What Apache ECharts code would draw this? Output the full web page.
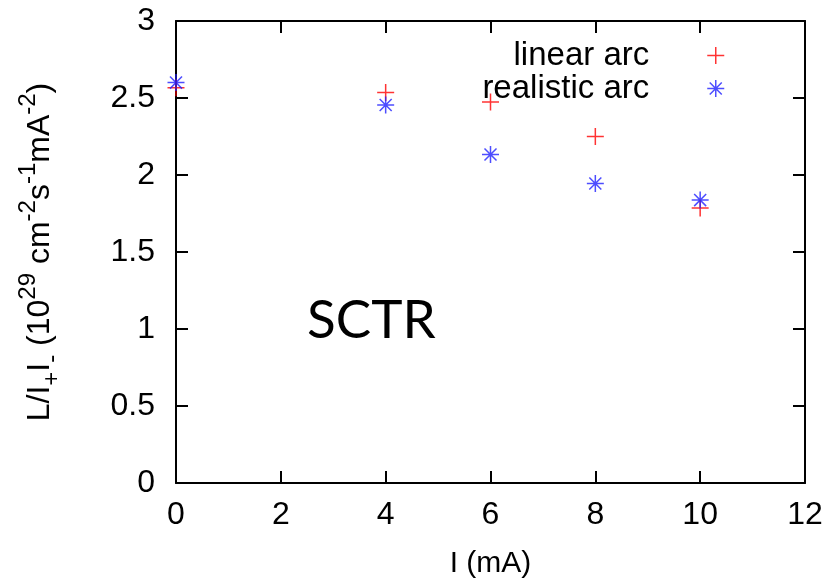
<!DOCTYPE html>
<html><head><meta charset="utf-8">
<script src="https://cdn.jsdelivr.net/npm/echarts@6/dist/echarts.min.js"></script>
<style>html,body{margin:0;padding:0;background:#fff}#c{width:830px;height:581px}</style>
</head><body><div id="c"></div>
<script>
const current = [0, 4, 6, 8, 10];
const linearArc = [2.567, 2.535, 2.474, 2.25, 1.785];
const realisticArc = [2.60, 2.454, 2.133, 1.945, 1.837];
const xTicks = [0, 2, 4, 6, 8, 10, 12];
const yTicks = [0, 0.5, 1, 1.5, 2, 2.5, 3];

const plusPath = 'path://M10,0L10,20M0,10L20,10';
const starPath = 'path://M10,0L10,20M0,10L20,10M2.93,2.93L17.07,17.07M2.93,17.07L17.07,2.93';
const font = 'Liberation Sans';

const chart = echarts.init(document.getElementById('c'), null, {renderer: 'canvas'});
const axisCommon = {
  type: 'value',
  axisLine: {show: true, onZero: false, lineStyle: {color: '#000', width: 2}},
  axisTick: {show: true, inside: true, length: 12, lineStyle: {color: '#000', width: 2}},
  splitLine: {show: false}
};
chart.setOption({
  animation: false,
  grid: {left: 176, right: 25, top: 21, bottom: 98, show: false, containLabel: false, outerBoundsMode: 'none'},
  xAxis: [
    Object.assign({}, axisCommon, {
      min: 0, max: 12, interval: 2, position: 'bottom',
      axisLabel: {color: '#000', fontFamily: font, fontSize: 32, margin: 16,
        formatter: v => xTicks.includes(v) ? String(v) : ''},
      name: 'I (mA)', nameLocation: 'middle', nameGap: 66,
      nameTextStyle: {color: '#000', fontFamily: font, fontSize: 30}
    }),
    Object.assign({}, axisCommon, {
      min: 0, max: 12, interval: 2, position: 'top', axisLabel: {show: false}
    })
  ],
  yAxis: [
    Object.assign({}, axisCommon, {
      min: 0, max: 3, interval: 0.5, position: 'left',
      axisLabel: {color: '#000', fontFamily: font, fontSize: 32, margin: 21,
        formatter: v => yTicks.includes(v) ? String(v) : ''},
      name: '{n|L/I}{sub|+}{n|I}{sub|-}{n| (10}{sup|29}{n| cm}{sup|-2}{n|s}{sup|-1}{n|mA}{sup|-2}{n|)}',
      nameLocation: 'middle', nameGap: 112, nameRotate: 90,
      nameTextStyle: {
        color: '#000', fontFamily: font, fontSize: 32,
        rich: {
          n: {color: '#000', fontFamily: font, fontSize: 32, lineHeight: 48, verticalAlign: 'middle'},
          sup: {color: '#000', fontFamily: font, fontSize: 24, lineHeight: 24, verticalAlign: 'top'},
          sub: {color: '#000', fontFamily: font, fontSize: 24, lineHeight: 24, verticalAlign: 'bottom'}
        }
      }
    }),
    Object.assign({}, axisCommon, {
      min: 0, max: 3, interval: 0.5, position: 'right', axisLabel: {show: false}
    })
  ],
  legend: {
    orient: 'vertical', align: 'right', right: 100, top: 34, itemGap: 0,
    itemWidth: 17, itemHeight: 17,
    textStyle: {color: '#000', fontFamily: font, fontSize: 33, lineHeight: 32, padding: [0, 53, 0, 0]},
    data: [
      {name: 'linear arc', icon: plusPath, itemStyle: {color: 'transparent', borderColor: '#ff0000', borderWidth: 1.5}},
      {name: 'realistic arc', icon: starPath, itemStyle: {color: 'transparent', borderColor: '#2020ff', borderWidth: 1.5}}
    ]
  },
  graphic: [{
    type: 'text', left: 307, top: 294,
    style: {text: 'SCTR', fontFamily: 'Lato', fontSize: 53, fill: '#000'}
  }],
  series: [
    {
      name: 'linear arc', type: 'scatter', symbol: plusPath, symbolSize: 17,
      itemStyle: {color: 'transparent', borderColor: '#ff0000', borderWidth: 1.5},
      data: current.map((x, i) => [x, linearArc[i]])
    },
    {
      name: 'realistic arc', type: 'scatter', symbol: starPath, symbolSize: 17,
      itemStyle: {color: 'transparent', borderColor: '#2020ff', borderWidth: 1.5},
      data: current.map((x, i) => [x, realisticArc[i]])
    }
  ]
});
</script></body></html>
